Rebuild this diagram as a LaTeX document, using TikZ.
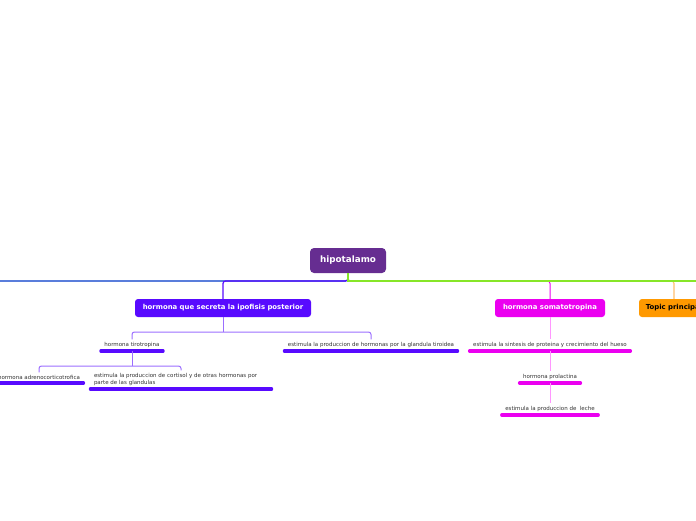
\documentclass[tikz,border=0pt]{standalone}
\usepackage{fontspec}
\setmainfont{DejaVu Sans}
\definecolor{rootc}{RGB}{102,45,145}
\definecolor{violc}{RGB}{88,10,255}
\definecolor{lviol}{RGB}{155,110,255}
\definecolor{bluec}{RGB}{0,55,200}
\definecolor{greenc}{RGB}{135,230,40}
\definecolor{magc}{RGB}{235,0,240}
\definecolor{lmag}{RGB}{255,150,255}
\definecolor{orc}{RGB}{255,153,0}
\definecolor{lor}{RGB}{255,190,110}
\definecolor{txt}{RGB}{50,50,50}
\begin{document}
\begin{tikzpicture}[x=1pt,y=-1pt,
  rootbox/.style={rounded corners=4pt, fill=rootc, text=white, inner sep=0pt,
    minimum width=76pt, minimum height=25pt, font=\bfseries\fontsize{8.8}{10}\selectfont},
  topic/.style={rounded corners=3pt, inner sep=0pt, minimum height=18pt,
    font=\bfseries\fontsize{6.9}{8}\selectfont, text=white},
  leaf/.style={inner xsep=5pt, inner ysep=3pt, anchor=south, text=txt,
    font=\fontsize{5.5}{7}\selectfont},
  ul/.style={line width=3.2pt, line cap=round, shorten <=1.6pt, shorten >=1.6pt},
  conn/.style={line width=1pt, rounded corners=2.5pt}
]
\clip (0,0) rectangle (696,520);
\useasboundingbox (0,0) rectangle (696,520);

% nodes
\node[rootbox] (root) at (348,260.5) {hipotalamo};
\node[topic, fill=violc, minimum width=176pt] (n1) at (223,308) {hormona que secreta la ipofisis posterior};
\node[topic, fill=magc, minimum width=110pt] (soma) at (550,308) {hormona somatotropina};
\node[topic, fill=orc, minimum width=70pt, text=black] (topicp) at (674,308) {Topic principal};

\node[leaf] (tiro) at (132,351) {hormona tirotropina};
\node[leaf] (tiroidea) at (371,351) {estimula la produccion de hormonas por la glandula tiroidea};
\node[leaf] (adreno) at (39,383) {hormona adrenocorticotrofica};
\node[leaf, text width=174pt, align=left] (cortisol) at (181,389) {estimula la produccion de cortisol y de otras hormonas por\\parte de las glandulas};
\node[leaf] (sint) at (550,351) {estimula la sintesis de proteina y crecimiento del hueso};
\node[leaf] (prol) at (550,383) {hormona prolactina};
\node[leaf] (leche) at (550,415) {estimula la produccion de\ \ leche};

% underlines
\foreach \n in {tiro,tiroidea,adreno,cortisol}
  \draw[ul, violc] (\n.south west) -- (\n.south east);
\foreach \n in {sint,prol,leche}
  \draw[ul, magc] (\n.south west) -- (\n.south east);

% bus coordinates and off-screen ends
\coordinate (bus) at (348,281);
\coordinate (offL) at (-5,281);
\coordinate (offR) at (701,281);
\coordinate (bus1) at (0,332);
\coordinate (bus2) at (0,366);

% root connectors
\draw[conn, bluec, line width=1.2pt] (root.south) |- (offL);
\draw[conn, violc, line width=1.2pt] (root.south) |- (n1.north |- bus) -- (n1.north);
\draw[conn, magc] (root.south) |- (soma.north |- bus) -- (soma.north);
\draw[conn, lor, line width=1.2pt] (root.south) |- (topicp.north |- bus) -- (topicp.north);
\draw[line width=1.3pt, greenc] (root.south) |- (offR);

% left branch
\draw[conn, lviol] (n1.south) -- (n1.south |- bus1);
\draw[conn, lviol] (tiro.north) -- (tiro.north |- bus1) -- (tiroidea.north |- bus1) -- (tiroidea.north);
\draw[conn, lviol] (tiro.south) -- (tiro.south |- bus2);
\draw[conn, lviol] (adreno.north) -- (adreno.north |- bus2) -- (cortisol.north |- bus2) -- (cortisol.north);

% right branch
\draw[conn, lmag] (soma.south) -- (sint.north);
\draw[conn, lmag] (sint.south) -- (prol.north);
\draw[conn, lmag] (prol.south) -- (leche.north);
\end{tikzpicture}
\end{document}
